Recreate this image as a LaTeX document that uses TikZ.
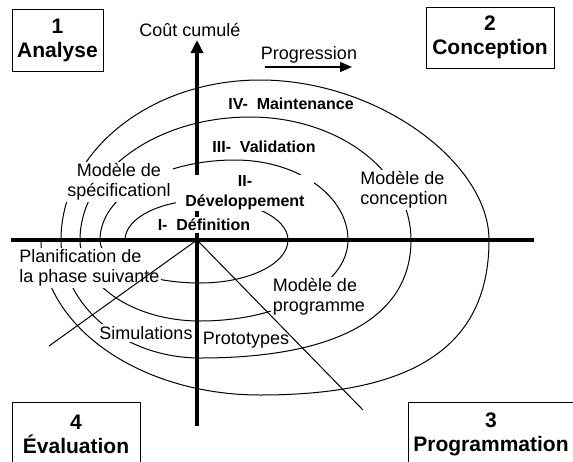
\documentclass[tikz,border=0pt]{standalone}
\usepackage{fontspec}
\setmainfont{Liberation Sans}
\usetikzlibrary{arrows.meta}

\begin{document}
\begin{tikzpicture}[x=0.5pt,y=-0.5pt,
    cadre/.style={draw,line width=0.5pt,fill=white,align=center,inner sep=0pt,
      font=\fontsize{10.5}{12}\selectfont\bfseries},
    etiq/.style={fill=white,inner sep=1pt,font=\fontsize{9}{10}\selectfont},
    phase/.style={fill=white,inner sep=1pt,font=\fontsize{8}{10}\selectfont\bfseries},
    axe/.style={line width=2.25pt},
    trait/.style={line width=0.5pt}]
    \useasboundingbox (0,0) rectangle (573,461);
    \clip (0,0) rectangle (573,461);

    % spirale
    \draw[trait] (125,240)
      arc[start angle=180,end angle=270,x radius=80,y radius=40]
      arc[start angle=270,end angle=360,x radius=83,y radius=40]
      arc[start angle=0,end angle=90,x radius=88,y radius=43]
      arc[start angle=90,end angle=180,x radius=100,y radius=43]
      arc[start angle=180,end angle=270,x radius=135,y radius=80]
      arc[start angle=270,end angle=360,x radius=113,y radius=80]
      arc[start angle=0,end angle=90,x radius=148,y radius=81]
      arc[start angle=90,end angle=180,x radius=120,y radius=81]
      arc[start angle=180,end angle=270,x radius=170,y radius=123]
      arc[start angle=270,end angle=360,x radius=161,y radius=123]
      .. controls (411,317) and (337,358) .. (200,358)
      arc[start angle=90,end angle=180,x radius=139,y radius=118]
      arc[start angle=180,end angle=270,x radius=199,y radius=160]
      .. controls (378,80) and (489,163) .. (489,240)
      .. controls (489,345) and (416,395) .. (260,395)
      arc[start angle=90,end angle=180,x radius=219,y radius=155];

    % axes
    \coordinate (origine) at (197,240);
    \coordinate (xg) at (11,240);
    \coordinate (xd) at (534,240);
    \coordinate (ybas) at (197,426);
    \coordinate (yhaut) at (197,40);
    \draw[axe] (xg) -- (xd);
    \draw[axe,-{Triangle[width=6pt,length=6.5pt]}] (ybas) -- (yhaut);

    % etiquettes
    \node[etiq] (cout) at (190,30) {Coût cumulé};
    \node[etiq] (progression) at (309,55) {Progression};
    \node[phase,inner sep=0pt] (maintenance) at (291,104) {IV-\ \ Maintenance};
    \node[phase] (validation) at (264,147) {III-\ \ Validation};
    \node[phase,align=center,text width=68pt,inner sep=0.5pt] (developpement) at (245,193) {II-\\Développement};
    \node[phase] (definition) at (204,225) {I-\ \ Définition};
    \node[etiq,align=center] (specification) at (119,182) {Modèle de\\spécificationl};
    \node[etiq,align=left] (conception) at (404,190) {Modèle de\\conception};
    \node[etiq,align=left] (programme) at (319,297) {Modèle de\\programme};
    \node[etiq,align=left,anchor=west] (planification) at (17,268) {Planification de\\la phase suivante};
    \node[etiq] (simulations) at (146,333) {Simulations};
    \node[etiq] (prototypes) at (246,340) {Prototypes};

    \coordinate (progdebut) at (265,67);
    \coordinate (progfin) at (352,67);
    \draw[line width=0.6pt,-{Triangle[width=5pt,length=6pt]}] (progdebut) -- (progfin);

    % diagonales
    \coordinate (diagsg) at (49,346);
    \coordinate (diagid) at (363,410);
    \draw[trait] (origine) -- (diagsg);
    \draw[trait] (origine) -- (diagid);

    % cadres
    \node[cadre,minimum width=45.5pt,minimum height=31pt] (analyse) at (57.5,40) {1\\Analyse};
    \node[cadre,minimum width=64pt,minimum height=30.5pt] (conceptionbis) at (490,37.5) {2\\Conception};
    \node[cadre,minimum width=83pt,minimum height=32.5pt] (programmation) at (491,434.5) {3\\Programmation};
    \node[cadre,minimum width=64pt,minimum height=32.5pt] (evaluation) at (76,434.5) {4\\Évaluation};
\end{tikzpicture}
\end{document}
